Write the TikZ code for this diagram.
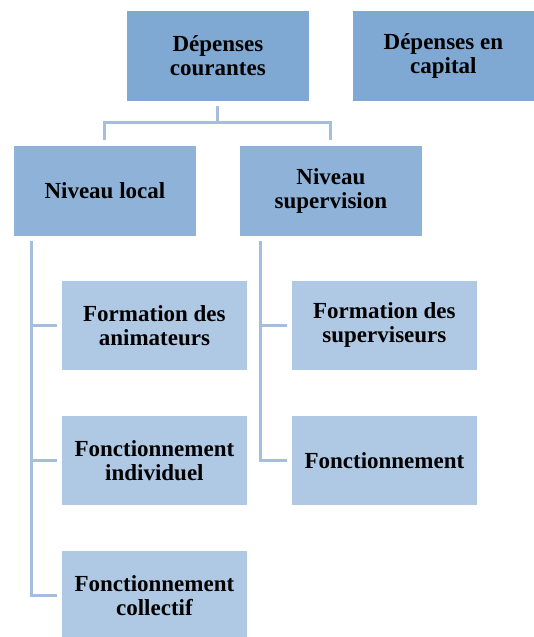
\documentclass[tikz,border=0pt]{standalone}
\usepackage{fontspec}
\setmainfont{Liberation Serif}
\definecolor{cdark}{HTML}{7FA8D2}
\definecolor{cmid}{HTML}{8FB2D9}
\definecolor{clight}{HTML}{AFC8E3}
\definecolor{cline}{HTML}{A5BEDD}
\begin{document}
\begin{tikzpicture}[x=1pt,y=-1pt,
  box/.style={anchor=north west,inner sep=0pt,minimum width=183pt,minimum height=91pt,align=center,
    font=\fontsize{23}{24}\selectfont\bfseries,draw=white,line width=0.8pt},
  topbox/.style={box,fill=cdark},
  midbox/.style={box,fill=cmid},
  leafbox/.style={box,fill=clight,minimum width=186pt,minimum height=90pt},
  conn/.style={draw=cline,line width=3pt}]
\useasboundingbox (0,0) rectangle (533,637);
\node[topbox] (dc) at (126,10) {Dépenses\\courantes};
\node[topbox,minimum width=182pt] (dk) at (352,10) {Dépenses en\\capital};
\node[midbox] (nl) at (13,145) {Niveau local};
\node[midbox] (ns) at (239,145) {Niveau\\supervision};
\node[leafbox] (fa) at (61,280) {Formation des\\animateurs};
\node[leafbox] (fi) at (61,415) {Fonctionnement\\individuel};
\node[leafbox] (fc) at (61,550) {Fonctionnement\\collectif};
\node[leafbox] (fs) at (291,280) {Formation des\\superviseurs};
\node[leafbox] (fo) at (291,415) {Fonctionnement};
\coordinate (jt) at ([yshift=-21pt]dc.south);
\draw[conn] ([yshift=-4pt]dc.south) -- (jt);
\draw[conn] ([yshift=5pt]nl.north) |- (jt) -| ([yshift=5pt]ns.north);
\coordinate (lv) at ([xshift=18pt,yshift=-4pt]nl.south west);
\coordinate (rv) at ([xshift=21pt,yshift=-4pt]ns.south west);
\draw[conn] (lv) |- ([xshift=-4pt]fc.west);
\draw[conn] (lv |- fa.west) -- ([xshift=-4pt]fa.west);
\draw[conn] (lv |- fi.west) -- ([xshift=-4pt]fi.west);
\draw[conn] (rv) |- ([xshift=-4pt]fo.west);
\draw[conn] (rv |- fs.west) -- ([xshift=-4pt]fs.west);
\end{tikzpicture}
\end{document}
